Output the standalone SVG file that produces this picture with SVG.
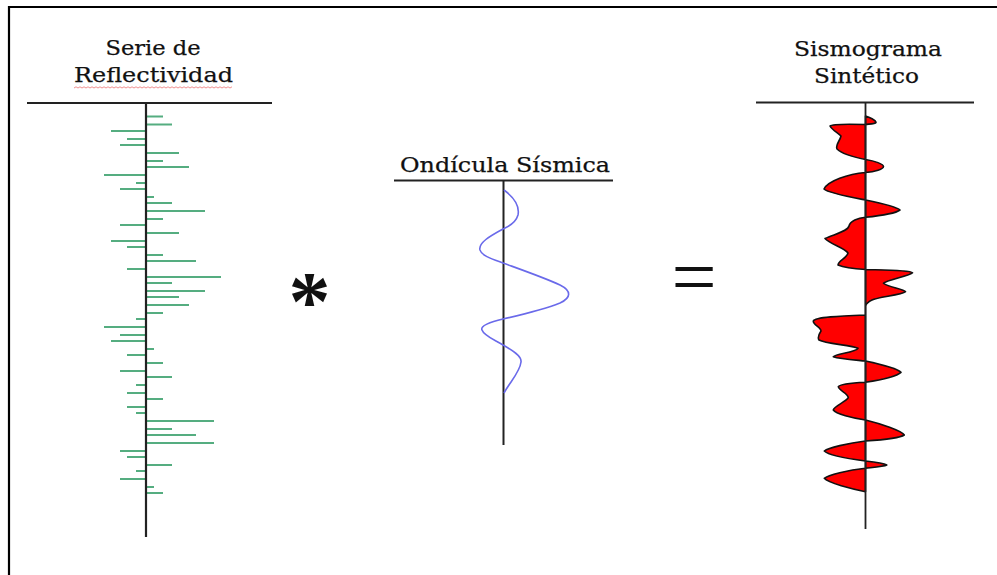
<svg xmlns="http://www.w3.org/2000/svg" width="997" height="575" viewBox="0 0 997 575">
<style>
.ttl{font-family:"DejaVu Serif","Liberation Serif",serif;font-size:21px;fill:#111;stroke:#111;stroke-width:0.25;text-anchor:middle}
.axis{stroke:#222;fill:none}
.bars{stroke:#55ad80;stroke-width:2;fill:none}
.wav{stroke:#6a6aea;stroke-width:1.6;fill:none}
.trace{fill:#ff0000;stroke:#111;stroke-width:1.6;stroke-linejoin:round}
</style>
<rect width="997" height="575" fill="#ffffff"/>
<g id="frame"><path d="M9,1000 V7 H1000" fill="none" stroke="#000" stroke-width="2.2"/></g>

<g id="reflectivity">
<text class="ttl" x="153" y="55" textLength="95" lengthAdjust="spacingAndGlyphs">Serie de</text>
<text class="ttl" x="153.5" y="82" textLength="159" lengthAdjust="spacingAndGlyphs">Reflectividad</text>
<polyline points="74,88 76,86.8 78,88 80,86.8 82,88 84,86.8 86,88 88,86.8 90,88 92,86.8 94,88 96,86.8 98,88 100,86.8 102,88 104,86.8 106,88 108,86.8 110,88 112,86.8 114,88 116,86.8 118,88 120,86.8 122,88 124,86.8 126,88 128,86.8 130,88 132,86.8 134,88 136,86.8 138,88 140,86.8 142,88 144,86.8 146,88 148,86.8 150,88 152,86.8 154,88 156,86.8 158,88 160,86.8 162,88 164,86.8 166,88 168,86.8 170,88 172,86.8 174,88 176,86.8 178,88 180,86.8 182,88 184,86.8 186,88 188,86.8 190,88 192,86.8 194,88 196,86.8 198,88 200,86.8 202,88 204,86.8 206,88 208,86.8 210,88 212,86.8 214,88 216,86.8 218,88 220,86.8 222,88 224,86.8 226,88 228,86.8 230,88 232,86.8" fill="none" stroke="#e85050" stroke-width="0.8" opacity="0.8"/>
<path class="bars" d="M146,116.5H163 M146,124.5H172 M146,131H111 M146,139H127 M146,145H120 M146,153H179 M146,161H163 M146,167H189 M146,175H104 M146,183H136 M146,189H120 M146,197H154 M146,203H172 M146,211H205 M146,219H163 M146,225H120 M146,233H179 M146,241H111 M146,247H127 M146,255H163 M146,261H196 M146,269H127 M146,277H221 M146,283H172 M146,291H205 M146,297H179 M146,305H189 M146,313H163 M146,319H136 M146,327H104 M146,335H120 M146,341H111 M146,349H154 M146,355H127 M146,363H163 M146,371H120 M146,377H172 M146,385H136 M146,393H127 M146,399H163 M146,407H127 M146,413H136 M146,421H214 M146,429H172 M146,435H196 M146,443H214 M146,451H120 M146,457H127 M146,465H172 M146,471H136 M146,479H120 M146,487H154 M146,493H163"/>
<path class="axis" stroke-width="2.2" stroke="#333" d="M27,103H272 M146,103V537"/>
</g>

<g id="convolve"><text x="309.5" y="330" font-family="Liberation Serif, serif" font-weight="bold" font-size="84" text-anchor="middle" fill="#111">*</text></g>

<g id="wavelet">
<text class="ttl" x="505" y="172" textLength="210" lengthAdjust="spacingAndGlyphs">Ondícula Sísmica</text>
<path class="axis" stroke-width="2" d="M394,180.5H613 M503.5,181V445"/>
<path class="wav" d="M504,190 C512,196 520,205 518,215 C516,222 510,226 503,229 C490,236 478,243 480,250 C482,256 492,259 503,263 C525,271 545,278 560,285 C572,291 571,298 560,303 C545,309 525,314 503,319 C490,322 480,326 482,330 C484,336 495,340 503,345 C512,350 522,356 521,362 C520,372 510,382 504,393"/>
</g>

<g id="equals"><text x="694" y="304" font-family="Liberation Serif, serif" font-size="80" text-anchor="middle" fill="#111">=</text></g>

<g id="seismogram">
<text class="ttl" x="868" y="55.5" textLength="148" lengthAdjust="spacingAndGlyphs">Sismograma</text>
<text class="ttl" x="866.5" y="83" textLength="105" lengthAdjust="spacingAndGlyphs">Sintético</text>
<path class="trace" d="M865.5,116 C869,117 876,120 876,122.5 C875,124 869,124 865.5,124.5 C850,124 832,124 830,126 C832,130 838,133 841,136 C840,141 835,145 837,149 C843,155 858,158 865.5,159.5 C875,161 883.5,164 883.5,166.5 C883.5,169 875,172 865.5,172.5 C848,174 828,181 824,189 C828,193 850,197 865.5,200 C880,203 897,207 900,210 C896,213 878,216 865.5,217.3 C858,218 850,221 849,226 C848,231 835,234 825,238.5 C830,244 845,248 848,253 C847,258 838,261 838,265 C845,268 858,269 865.5,269.5 C885,270 910,270 912.5,272.7 C910,276 886,280 883.5,283.3 C887,287 904,289 905.5,291.7 C902,295 878,297 872,300 C868,302 866,304 865.5,306 L865.5,315 C840,316 815,317 813.3,321 C813,325 821,327 821,331 C819,334 817,337 819,340 C826,344 852,345 858,348.3 C856,352 836,354 833.3,356.7 C840,359 856,360 865.5,361 C880,364 898,369 901,372.3 C897,376 880,380 865.5,382.3 C852,383 840,384 838.3,386.7 C839,391 848,393 848.3,397.7 C846,402 834,406 833.3,410 C836,414 852,418 865.5,420 C882,424 902,431 904.3,435 C900,438 880,440 865.5,441 C848,443 828,448 824.3,451 C828,455 850,459 865.5,461 C874,462 885,464 886.7,465 C884,466.5 872,467.5 865.5,468.3 C848,470 828,475 824.3,478.3 C828,483 852,489 865.5,491.7 Z"/>
<path class="axis" stroke-width="1.8" stroke="#000" d="M756,102.5H974 M865.5,103V529"/>
</g>
</svg>
